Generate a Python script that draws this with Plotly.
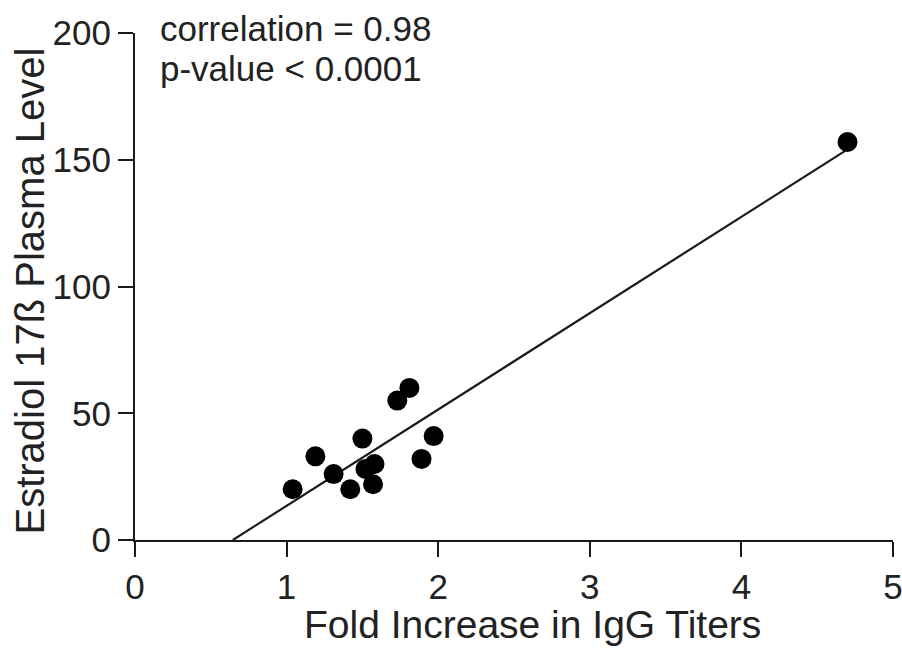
import numpy as np
import plotly.graph_objects as go

# Data
fold_increase = [1.04, 1.19, 1.31, 1.42, 1.50, 1.52, 1.58, 1.57, 1.73, 1.81, 1.89, 1.97, 4.70]
estradiol = [20, 33, 26, 20, 40, 28, 30, 22, 55, 60, 32, 41, 157]
x_ticks = [0, 1, 2, 3, 4, 5]
y_ticks = [0, 50, 100, 150, 200]
stats_text = ["correlation = 0.98", "p-value < 0.0001"]
x_title = "Fold Increase in IgG Titers"
y_title = "Estradiol 17ß Plasma Level"

# Linear regression from the data
slope, intercept = np.polyfit(fold_increase, estradiol, 1)
x_start = -intercept / slope
x_end = max(fold_increase)
fit_x = [x_start, x_end]
fit_y = [slope * v + intercept for v in fit_x]

FONT = "Liberation Sans, Arial, sans-serif"
INK = "#1a1a1a"
TXT = "#222"

fig = go.Figure()
fig.add_trace(go.Scatter(x=fit_x, y=fit_y, mode="lines",
                         line=dict(color=INK, width=2.2), showlegend=False,
                         hoverinfo="skip"))
fig.add_trace(go.Scatter(x=fold_increase, y=estradiol, mode="markers",
                         marker=dict(color="black", size=20, line=dict(width=0)),
                         showlegend=False))

axis_common = dict(showgrid=False, zeroline=False, showline=True, linecolor=INK,
                   linewidth=2, ticks="outside", ticklen=15, tickwidth=2,
                   tickcolor=INK, ticklabeloverflow="allow", automargin=False,
                   tickfont=dict(family=FONT, size=35, color=TXT))

annots = []
for i, txt in enumerate(stats_text):
    annots.append(dict(text=txt, xref="paper", yref="paper",
                       x=0, y=1, xshift=23, yshift=26 - 40 * i,
                       xanchor="left", yanchor="top", align="left",
                       showarrow=False,
                       font=dict(family=FONT, size=35, color=TXT)))
annots.append(dict(text=x_title, xref="paper", yref="paper", x=0.5, y=0,
                   xshift=18, yshift=-84, xanchor="center", yanchor="middle",
                   showarrow=False, font=dict(family=FONT, size=39, color=TXT)))
annots.append(dict(text=y_title, xref="paper", yref="paper", x=0, y=0.5,
                   xshift=-106, yshift=-5, xanchor="center", yanchor="middle",
                   textangle=-90, showarrow=False,
                   font=dict(family=FONT, size=40, color=TXT)))

fig.update_layout(
    width=902, height=648,
    margin=dict(l=135, r=9, t=33, b=108, autoexpand=False),
    paper_bgcolor="white", plot_bgcolor="white",
    font=dict(family=FONT, color=TXT),
    xaxis=dict(range=[0, 5], tickvals=x_ticks, ticktext=[str(v) for v in x_ticks],
               **axis_common),
    yaxis=dict(range=[0, 200], tickvals=y_ticks, ticktext=[str(v) for v in y_ticks],
               **axis_common),
    annotations=annots,
)

# Let the 902x648 figure fill the window exactly (no default body margin)
fig.write_html("out.html",
               config={"displayModeBar": False},
               post_script="document.body.style.margin='0';"
                           "document.body.style.overflow='hidden';")
